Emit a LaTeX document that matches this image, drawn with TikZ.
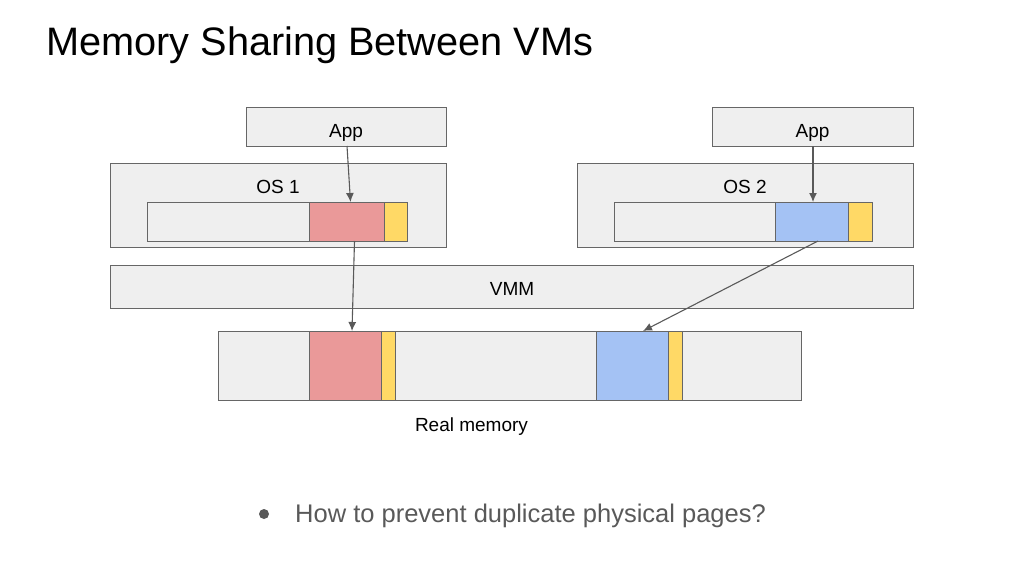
\documentclass[tikz,border=0pt]{standalone}
\usepackage{fontspec}
\setmainfont{Liberation Sans}
\usetikzlibrary{arrows.meta,calc}
\definecolor{boxfill}{HTML}{EFEFEF}
\definecolor{boxline}{HTML}{666666}
\definecolor{pinkc}{HTML}{EA9999}
\definecolor{bluec}{HTML}{A4C2F4}
\definecolor{yellowc}{HTML}{FFD966}
\definecolor{arrowc}{HTML}{595959}
\definecolor{bullettext}{HTML}{595959}
\tikzset{
  box/.style={draw=boxline, fill=boxfill, line width=1pt, inner sep=0pt, outer sep=0pt, anchor=north west},
  blk/.style={draw=boxline, line width=1pt, inner sep=0pt, outer sep=0pt, anchor=north west},
  lbl/.style={font=\fontsize{19}{22}\selectfont, inner sep=0pt, text=black, anchor=base},
  conn/.style={draw=arrowc, line width=1.1pt, -{Latex[length=9pt,width=8pt]}},
}
\begin{document}
\begin{tikzpicture}[x=1pt,y=-1pt]
\useasboundingbox (0,0) rectangle (1024,576);
% title
\node[anchor=base west, inner sep=0pt, font=\fontsize{39.7}{48}\selectfont] (title) at (46,55) {Memory Sharing Between VMs};
% apps
\node[box, minimum width=200pt, minimum height=39pt] (app1) at (246,107) {};
\node[lbl] (app1t) at (346,137) {App};
\node[box, minimum width=201pt, minimum height=39pt] (app2) at (712,107) {};
\node[lbl] (app2t) at (812.5,137) {App};
% OS boxes
\node[box, minimum width=336pt, minimum height=84pt] (os1) at (110,163) {};
\node[lbl] (os1t) at (278,193) {OS 1};
\node[box, minimum width=336pt, minimum height=84pt] (os2) at (577,163) {};
\node[lbl] (os2t) at (745,193) {OS 2};
% OS inner bars
\node[box, minimum width=260pt, minimum height=39pt] (bar1) at (147,202) {};
\node[blk, fill=pinkc, minimum width=75pt, minimum height=39pt] (pink1) at (309,202) {};
\node[blk, fill=yellowc, minimum width=23pt, minimum height=39pt] (yel1) at (384,202) {};
\node[box, minimum width=258pt, minimum height=39pt] (bar2) at (614,202) {};
\node[blk, fill=bluec, minimum width=73pt, minimum height=39pt] (blue2) at (775,202) {};
\node[blk, fill=yellowc, minimum width=24pt, minimum height=39pt] (yel2) at (848,202) {};
% VMM
\node[box, minimum width=803pt, minimum height=43pt] (vmm) at (110,265) {};
\node[lbl] (vmmt) at (512,295) {VMM};
% real memory
\node[box, minimum width=583pt, minimum height=69pt] (mem) at (218,331) {};
\node[blk, fill=pinkc, minimum width=72pt, minimum height=69pt] (mpink) at (309,331) {};
\node[blk, fill=yellowc, minimum width=14pt, minimum height=69pt] (myel1) at (381,331) {};
\node[blk, fill=bluec, minimum width=72pt, minimum height=69pt] (mblue) at (596,331) {};
\node[blk, fill=yellowc, minimum width=14pt, minimum height=69pt] (myel2) at (668,331) {};
\node[lbl] (memt) at (471.5,431) {Real memory};
% connectors
\draw[conn] ([xshift=1pt]app1.south) -- ([xshift=4pt]pink1.north);
\draw[conn] ([xshift=8pt]pink1.south) -- ([xshift=7pt]mpink.north);
\draw[conn] ([xshift=0.5pt]app2.south) -- ([xshift=1.5pt]blue2.north);
\draw[conn] ([xshift=6.5pt]blue2.south) -- ([xshift=11pt]mblue.north);
% bullet
\node[circle, fill=bullettext, inner sep=0pt, minimum size=10pt] (bul) at (264,514) {};
\node[anchor=base west, inner sep=0pt, text=bullettext, font=\fontsize{25.5}{30}\selectfont] (q) at (295,522) {How to prevent duplicate physical pages?};
\end{tikzpicture}
\end{document}
